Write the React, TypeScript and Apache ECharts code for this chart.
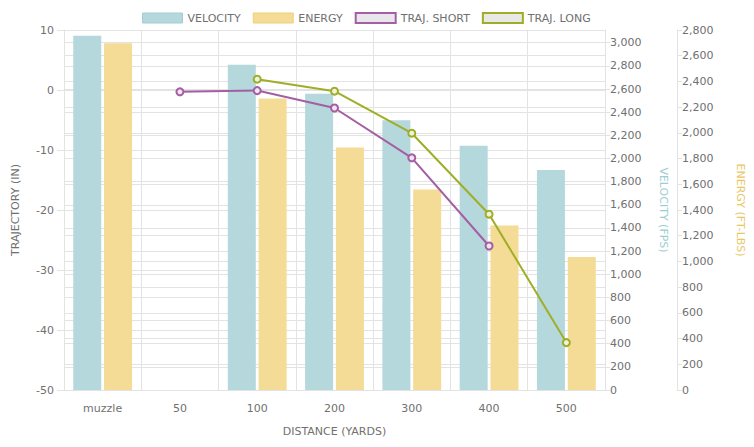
import React, { useEffect, useRef } from "react";
import * as echarts from "echarts";

const categories = ["muzzle", "50", "100", "200", "300", "400", "500"];
const velocity = [3060, null, 2810, 2560, 2330, 2110, 1900];
const energy = [2697, null, 2268, 1886, 1560, 1280, 1035];
const trajShort = [null, -0.3, -0.1, -3, -11.3, -26, null];
const trajLong = [null, null, 1.8, -0.2, -7.2, -20.7, -42.1];

const FONT = "'DejaVu Sans', 'Open Sans', sans-serif";
const TXT = "#707070";
const GRID = "#e3e3e3";
const C_VEL = "#b5d8dc";
const C_VEL_B = "#a3cdd2";
const C_EN = "#f4dc96";
const C_EN_B = "#ecd07a";
const C_SHORT = "#a45ea3";
const C_LONG = "#9fae27";

export default function App() {
  const ref = useRef<HTMLDivElement>(null);
  useEffect(() => {
    if (!ref.current) return;
    const chart = echarts.init(ref.current, undefined, { renderer: "svg" });
    const lbl = { color: TXT, fontFamily: FONT, fontSize: 11 };
    chart.setOption({
      animation: false,
      textStyle: { fontFamily: FONT },
      legend: {
        top: 7,
        left: 137,
        itemWidth: 40,
        itemHeight: 10,
        itemGap: 12,
        icon: "rect",
        textStyle: { color: TXT, fontFamily: FONT, fontSize: 11 },
        data: [
          { name: "VELOCITY", itemStyle: { color: C_VEL, borderColor: C_VEL_B, borderWidth: 1 } },
          { name: "ENERGY", itemStyle: { color: C_EN, borderColor: C_EN_B, borderWidth: 1 } },
          { name: "TRAJ. SHORT", itemStyle: { color: "#e8e6ea", borderColor: C_SHORT, borderWidth: 2 } },
          { name: "TRAJ. LONG", itemStyle: { color: "#e8e8e4", borderColor: C_LONG, borderWidth: 2 } },
        ],
      },
      grid: { left: 64, right: 149, top: 30, bottom: 57, containLabel: false },
      xAxis: {
        type: "category",
        data: categories,
        boundaryGap: true,
        name: "DISTANCE (YARDS)",
        nameLocation: "middle",
        nameGap: 36,
        nameTextStyle: { color: TXT, fontFamily: FONT, fontSize: 11 },
        axisLine: { show: true, lineStyle: { color: GRID } },
        axisTick: { show: true, length: 9, lineStyle: { color: GRID } },
        splitLine: { show: true, lineStyle: { color: GRID } },
        axisLabel: { ...lbl, margin: 13 },
      },
      yAxis: [
        {
          type: "value",
          position: "left",
          min: -50,
          max: 10,
          interval: 10,
          name: "TRAJECTORY (IN)",
          nameLocation: "middle",
          nameGap: 43,
          nameTextStyle: { color: TXT, fontFamily: FONT, fontSize: 11 },
          axisLine: { show: true, lineStyle: { color: GRID } },
          axisTick: { show: true, length: 7, lineStyle: { color: GRID } },
          splitLine: { show: true, lineStyle: { color: GRID } },
          axisLabel: { ...lbl, margin: 10 },
        },
        {
          type: "value",
          position: "right",
          min: 0,
          max: 3110,
          interval: 200,
          name: "VELOCITY (FPS)",
          nameLocation: "middle",
          nameGap: 53,
          nameRotate: -90,
          nameTextStyle: { color: "#9ccdd2", fontFamily: FONT, fontSize: 11 },
          axisLine: { show: true, lineStyle: { color: GRID } },
          axisTick: { show: true, length: 5, lineStyle: { color: GRID } },
          splitLine: { show: true, lineStyle: { color: GRID } },
          axisLabel: {
            ...lbl,
            margin: 5,
            showMaxLabel: false,
            formatter: (v: number) => v.toLocaleString("en-US"),
          },
        },
        {
          type: "value",
          position: "right",
          offset: 72,
          min: 0,
          max: 2800,
          interval: 200,
          name: "ENERGY (FT-LBS)",
          nameLocation: "middle",
          nameGap: 58,
          nameRotate: -90,
          nameTextStyle: { color: "#e9c766", fontFamily: FONT, fontSize: 11 },
          axisLine: { show: true, lineStyle: { color: GRID } },
          axisTick: { show: true, length: 5, lineStyle: { color: GRID } },
          splitLine: { show: true, lineStyle: { color: GRID } },
          axisLabel: {
            ...lbl,
            margin: 5,
            formatter: (v: number) => v.toLocaleString("en-US"),
          },
        },
      ],
      series: [
        {
          name: "VELOCITY",
          type: "bar",
          yAxisIndex: 1,
          data: velocity,
          barWidth: 28,
          barGap: "10%",
          itemStyle: { color: C_VEL },
          z: 2,
        },
        {
          name: "ENERGY",
          type: "bar",
          yAxisIndex: 2,
          data: energy,
          barWidth: 28,
          barGap: "10%",
          itemStyle: { color: C_EN },
          z: 2,
        },
        {
          name: "TRAJ. SHORT",
          type: "line",
          yAxisIndex: 0,
          data: trajShort,
          symbol: "circle",
          symbolSize: 7,
          showAllSymbol: true,
          lineStyle: { color: C_SHORT, width: 2 },
          itemStyle: { color: "#f1e6f0", borderColor: C_SHORT, borderWidth: 2 },
          z: 5,
        },
        {
          name: "TRAJ. LONG",
          type: "line",
          yAxisIndex: 0,
          data: trajLong,
          symbol: "circle",
          symbolSize: 7,
          showAllSymbol: true,
          lineStyle: { color: C_LONG, width: 2 },
          itemStyle: { color: "#f1f2de", borderColor: C_LONG, borderWidth: 2 },
          z: 5,
        },
      ],
    });
    return () => chart.dispose();
  }, []);
  return <div ref={ref} style={{ width: 754, height: 447, position: "absolute", left: 0, top: 0 }} />;
}
